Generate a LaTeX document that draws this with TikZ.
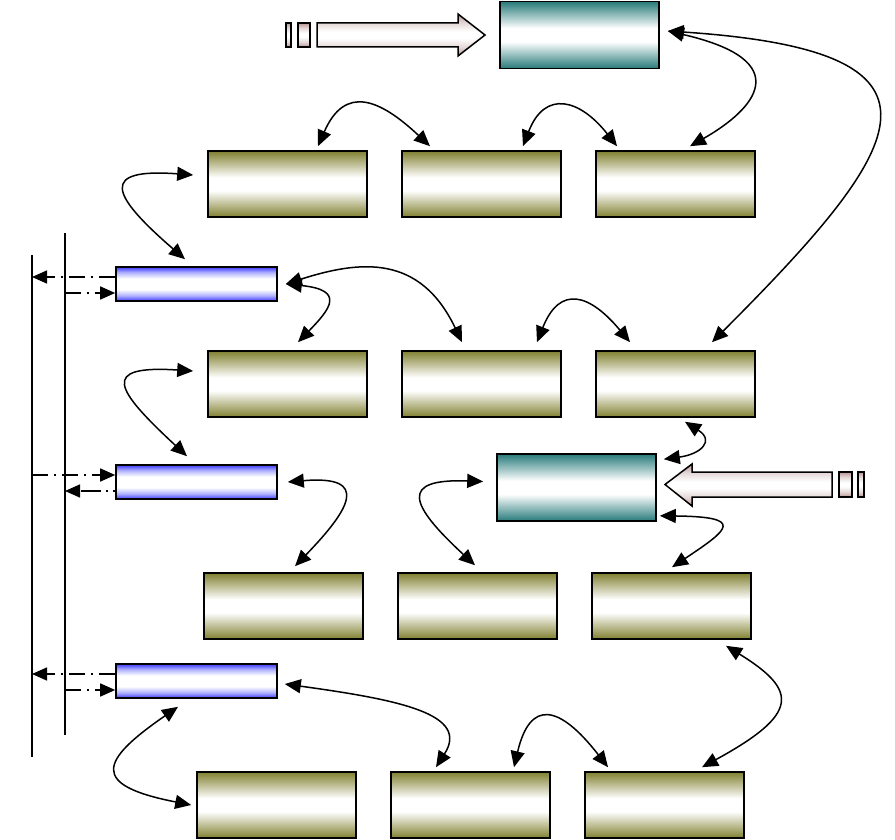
\documentclass[tikz,border=0pt]{standalone}
\usetikzlibrary{arrows.meta, positioning}
\definecolor{olivebar}{RGB}{128,128,48}
\definecolor{tealbar}{RGB}{40,122,122}
\definecolor{bluebar}{RGB}{60,60,255}
\definecolor{feedpink}{RGB}{185,150,150}
\colorlet{olivesoft}{olivebar!45!white}
\colorlet{tealsoft}{tealbar!45!white}
\colorlet{bluesoft}{bluebar!40!white}
\colorlet{feedsoft}{feedpink!40!white}
\pgfdeclareverticalshading{olivefade}{100bp}{color(0bp)=(olivebar); color(25bp)=(olivebar); color(36bp)=(olivesoft); color(45bp)=(white); color(55bp)=(white); color(64bp)=(olivesoft); color(75bp)=(olivebar); color(100bp)=(olivebar)}
\pgfdeclareverticalshading{tealfade}{100bp}{color(0bp)=(tealbar); color(25bp)=(tealbar); color(36bp)=(tealsoft); color(45bp)=(white); color(55bp)=(white); color(64bp)=(tealsoft); color(75bp)=(tealbar); color(100bp)=(tealbar)}
\pgfdeclareverticalshading{bluefade}{100bp}{color(0bp)=(bluebar); color(25bp)=(bluebar); color(33bp)=(bluesoft); color(42bp)=(white); color(58bp)=(white); color(67bp)=(bluesoft); color(75bp)=(bluebar); color(100bp)=(bluebar)}
\pgfdeclareverticalshading{feedfade}{100bp}{color(0bp)=(feedpink); color(25bp)=(feedpink); color(35bp)=(feedsoft); color(46bp)=(white); color(54bp)=(white); color(65bp)=(feedsoft); color(75bp)=(feedpink); color(100bp)=(feedpink)}

\begin{document}
\begin{tikzpicture}[
x=1pt, y=-1pt,
node distance=132.4pt and 33.4pt,
cell/.style={rectangle, draw, line width=1.6pt, inner sep=0pt, minimum width=159pt, minimum height=66pt, shade, shading=olivefade},
port/.style={cell, minimum width=161pt, minimum height=34pt, shading=bluefade},
unit/.style={cell, minimum height=67pt, shading=tealfade},
feed/.style={draw, line width=1.5pt, shade, shading=feedfade},
link/.style={{Triangle[length=16pt,width=14pt]}-{Triangle[length=16pt,width=14pt]}, line width=1.5pt},
tap/.style={-{Triangle[length=15pt,width=13pt]}, line width=1.5pt, dash pattern=on 16pt off 6pt on 2pt off 6pt},
tapdots/.style={tap, dash pattern=on 2pt off 5pt on 2pt off 5pt on 20pt}
]
\useasboundingbox (0,0) rectangle (895,840);

% boxes
\node[unit] (srcA) at (579.5,35) {};
\node[cell] (a1) at (287.5,184) {};
\node[cell, right=of a1] (a2) {};
\node[cell, right=of a2] (a3) {};
\node[port] (p1) at (196.5,284) {};
\node[cell, below=of a1] (b1) {};
\node[cell, right=of b1] (b2) {};
\node[cell, right=of b2] (b3) {};
\node[port] (p2) at (196.5,482) {};
\node[unit] (srcB) at (576.5,487.5) {};
\node[cell] (c1) at (283.5,606) {};
\node[cell, right=of c1] (c2) {};
\node[cell, right=of c2] (c3) {};
\node[port] (p3) at (196.5,681) {};
\node[cell] (d1) at (276.5,805) {};
\node[cell, right=of d1] (d2) {};
\node[cell, right=of d2] (d3) {};

% input arrows
\shade[feed] (286,23) rectangle (291,47);
\shade[feed] (298,23) rectangle (310,47);
\shade[feed] (317,23) -- (458,23) -- (458,14) -- (485,35) -- (458,56) -- (458,47) -- (317,47) -- cycle;
\shade[feed] (864,472) rectangle (858,497);
\shade[feed] (852,472) rectangle (839,497);
\shade[feed] (832,472) -- (692,472) -- (692,464) -- (665,484.5) -- (692,506) -- (692,497) -- (832,497) -- cycle;

% buses
\coordinate (busLtop) at (32,255);
\coordinate (busLbot) at (32,757);
\coordinate (busRtop) at (65,233);
\coordinate (busRbot) at (65,735);
\draw[line width=1.5pt] (busLtop) -- (busLbot);
\draw[line width=1.5pt] (busRtop) -- (busRbot);

\draw[tap] ([yshift=7pt]p1.west) -- ([yshift=7pt]busLtop |- p1.west);
\draw[tap] ([yshift=-9pt]busRtop |- p1.west) -- ([yshift=-9pt]p1.west);
\draw[tap] ([yshift=7pt]busLtop |- p2.west) -- ([yshift=7pt]p2.west);
\draw[tapdots] ([yshift=-9pt]p2.west) -- ([yshift=-9pt]busRtop |- p2.west);
\draw[tap] ([yshift=7pt]p3.west) -- ([yshift=7pt]busLtop |- p3.west);
\draw[tap] ([yshift=-9pt]busRtop |- p3.west) -- ([yshift=-9pt]p3.west);

% links
\draw[link] ([shift={(8,-4)}]srcA.east) .. controls +(130,30) and +(65,-37) .. ([shift={(14.5,-4)}]a3.north);
\draw[link] ([shift={(8,-4)}]srcA.east) .. controls +(300,20) and +(200,-200) .. ([shift={(36.5,-8)}]b3.north);
\draw[link] ([shift={(30.5,-4)}]a1.north) .. controls +(27,-62) and +(-50,-47) .. ([shift={(-51.5,-4)}]a2.north);
\draw[link] ([shift={(41.5,-4)}]a2.north) .. controls +(22,-57) and +(-37,-47) .. ([shift={(-58.5,-4)}]a3.north);
\draw[link] ([shift={(-14,-9)}]a1.west) .. controls +(-94,-7) and +(-75,-65) .. ([shift={(-11.5,-7)}]p1.north);
\draw[link] ([shift={(8,0)}]p1.east) .. controls +(75,-24) and +(-42,-88) .. ([shift={(-19.5,-8)}]b2.north);
\draw[link] ([shift={(8,0)}]p1.east) .. controls +(60,6) and +(32,-33) .. ([shift={(10.5,-8)}]b1.north);
\draw[link] ([shift={(55.5,-8)}]b2.north) .. controls +(23,-58) and +(-40,-48) .. ([shift={(-45.5,-8)}]b3.north);
\draw[link] ([shift={(-14,-13)}]b1.west) .. controls +(-94,-6) and +(-72,-67) .. ([shift={(-9.5,-8)}]p2.north);
\draw[link] ([shift={(9.5,4)}]b3.south) .. controls +(30,19) and +(37,-5) .. ([shift={(7,6)}]srcB.north east);
\draw[link] ([shift={(10,0)}]p2.east) .. controls +(83,-7) and +(55,-57) .. ([shift={(11.5,-6)}]c1.north);
\draw[link] ([shift={(-13,-6)}]srcB.west) .. controls +(-84,-3) and +(-66,-61) .. ([shift={(-2.5,-7)}]c2.north);
\draw[link] ([shift={(3,-6)}]srcB.south east) .. controls +(86,1) and +(57,-38) .. ([shift={(0.5,-5)}]c3.north);
\draw[link] ([shift={(54.5,6)}]c3.south) .. controls +(73,45) and +(97,-53) .. ([shift={(37.5,-4)}]d3.north);
\draw[link] ([shift={(7,3)}]p3.east) .. controls +(116,16) and +(34,-53) .. ([shift={(-34.5,-4)}]d2.north);
\draw[link] ([shift={(43.5,-4)}]d2.north) .. controls +(16,-68) and +(-49,-63) .. ([shift={(-56.5,-4)}]d3.north);
\draw[link] ([shift={(-18.5,8)}]p3.south) .. controls +(-78,54) and +(-102,-20) .. ([shift={(-5,0)}]d1.west);
\end{tikzpicture}
\end{document}
